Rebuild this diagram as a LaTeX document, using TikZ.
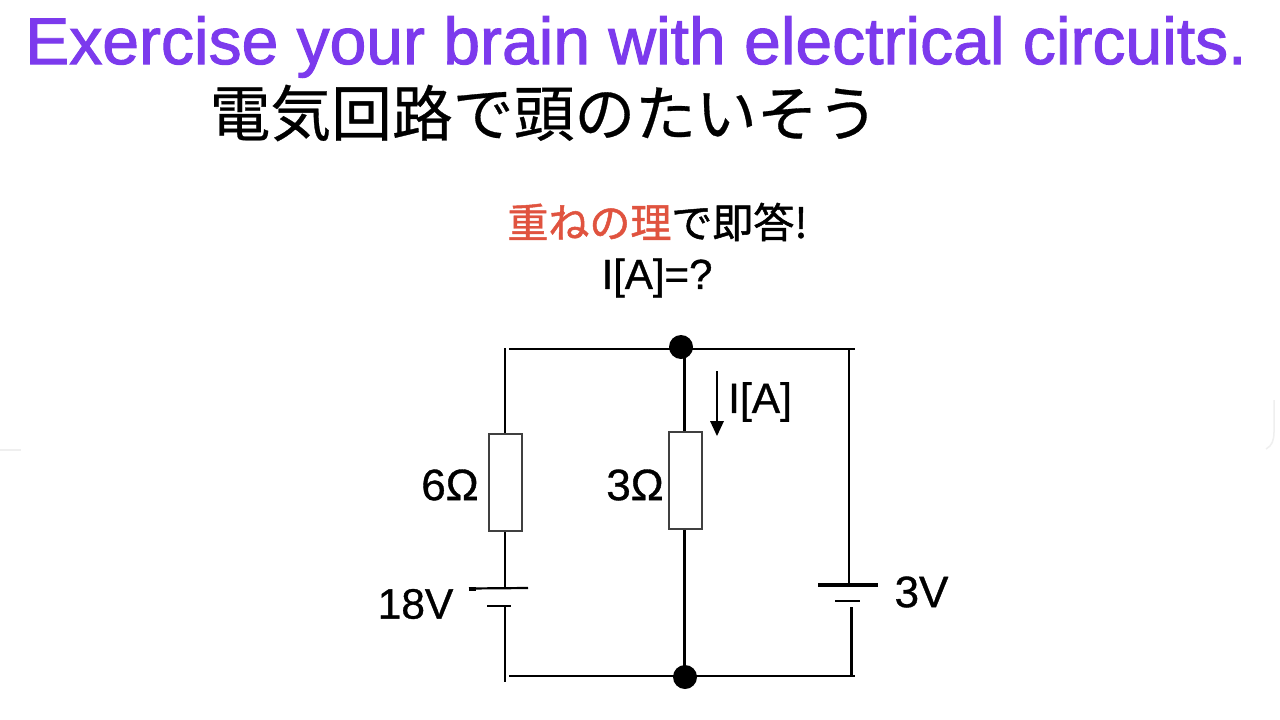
\documentclass[tikz,border=0pt]{standalone}
\usepackage{fontspec}
\setmainfont{Liberation Sans}
\newfontfamily\titlefont[FakeBold=1.5]{Liberation Sans}
\newfontfamily\labelfont[FakeBold=0.8]{Liberation Sans}
\newfontfamily\cjk[FakeBold=0.5]{Noto Sans CJK JP}
\newfontfamily\cjkmid[FakeBold=1.2]{Noto Sans CJK JP}
\definecolor{titlepurple}{HTML}{7C3AED}
\definecolor{accentred}{HTML}{E0533F}
\definecolor{faintedge}{HTML}{EFEFEF}
\newcommand{\fs}[1]{\fontsize{#1}{#1}\selectfont}
\tikzset{
  wire/.style={draw=black,line width=2.6pt},
  plate/.style={draw=black,line width=2.2pt},
  thickplate/.style={draw=black,line width=4.5pt},
  resistor/.style={draw=black!75,fill=white,line width=2pt,minimum width=33pt,minimum height=97pt,inner sep=0pt,rectangle},
  junction/.style={circle,fill=black,minimum size=24pt,inner sep=0pt},
  lbl/.style={inner sep=0pt,anchor=center},
}
\begin{document}
\begin{tikzpicture}[x=1pt,y=-1pt]
\useasboundingbox (0,0) rectangle (1280,720);
\fill[white] (0,0) rectangle (1280,720);
\draw[faintedge,line width=2pt] (0,450) -- (21,450);
\draw[faintedge,line width=1.5pt] (1274,400) -- (1274,432) .. controls (1274,440) and (1272,446) .. (1266,449);

\node[lbl,text=titlepurple] (title) at (636,47) {\fs{66}\titlefont Exercise your brain with electrical circuits.};
\node[lbl] (subtitle) at (544,113) {\fs{60.8}\cjk 電気回路で頭のたいそう};
\node[lbl] (q1) at (657.5,222) {\fs{41}\cjkmid\textcolor{accentred}{重ねの理}で即答!};
\node[lbl] (q2) at (657,278) {\fs{42}\labelfont I[A]=?};

\coordinate (tl) at (509,349);
\coordinate (tr) at (855,349);
\coordinate (bl) at (509,676);
\coordinate (br) at (855,676);
\coordinate (lt) at (505,348);
\coordinate (lb) at (505,682);

% left battery
\coordinate (b1a) at (469,588.5);
\coordinate (b1b) at (528,588);
\coordinate (b1c) at (487,606);
\coordinate (b1d) at (511,606);
% right battery
\coordinate (b2a) at (818,585);
\coordinate (b2b) at (878,585);
\coordinate (b2c) at (835,601);
\coordinate (b2d) at (860,601);

\draw[wire] (tl) -- (tr);
\draw[wire] (bl) -- (br);
\draw[wire] (lt) -- (505,433);
\draw[wire] (505,531) -- (505,588);
\draw[wire] (505,606) -- (lb);
\draw[plate] (b1a) -- (b1b);
\draw[line width=3.5pt] (469,589) -- (476,589);
\draw[plate] (b1c) -- (b1d);
\draw[wire] (684.5,349) -- (684.5,432);
\draw[wire] (684.5,529) -- (684.5,676);
\draw[wire] (849,349) -- (849,585);
\draw[thickplate] (b2a) -- (b2b);
\draw[plate] (b2c) -- (b2d);
\draw[wire] (851.5,607) -- (851.5,676);

\node[resistor] (r1) at (505,482) {};
\node[resistor] (r2) at (685.5,480.5) {};
\node[junction] (jt) at (681,347) {};
\node[junction] (jb) at (685,677) {};

\coordinate (arrs) at (717,371);
\coordinate (arre) at (717,422);
\draw[black,line width=2pt] (arrs) -- (arre);
\fill[black] (710,421) -- (724,421) -- (717,436) -- cycle;

\node[lbl] (l6) at (450,485) {\fs{44}\labelfont 6Ω};
\node[lbl] (l3) at (635,485) {\fs{44}\labelfont 3Ω};
\node[lbl] (l18) at (415.5,604) {\fs{42.5}\labelfont 18V};
\node[lbl] (l3v) at (921.5,592) {\fs{44}\labelfont 3V};
\node[lbl] (li) at (760,402) {\fs{42.5}\labelfont I[A]};
\end{tikzpicture}
\end{document}
